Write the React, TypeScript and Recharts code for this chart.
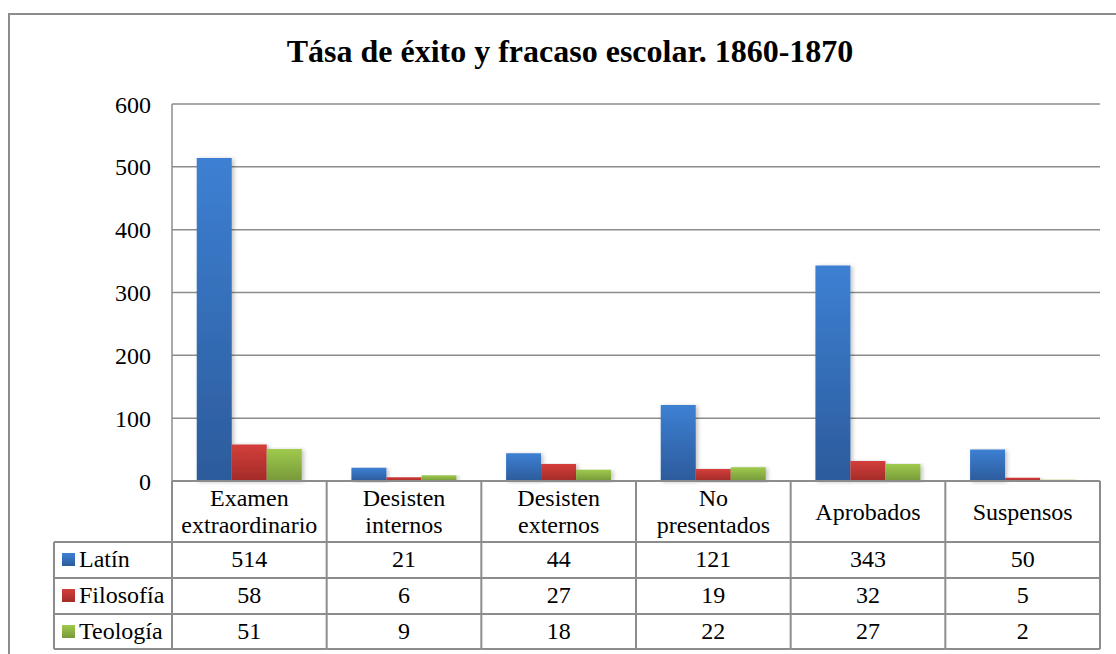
import { BarChart, Bar, XAxis, YAxis, CartesianGrid } from 'recharts';

const categories = [
  'Examen extraordinario',
  'Desisten internos',
  'Desisten externos',
  'No presentados',
  'Aprobados',
  'Suspensos',
];
const latin = [514, 21, 44, 121, 343, 50];
const filosofia = [58, 6, 27, 19, 32, 5];
const teologia = [51, 9, 18, 22, 27, 2];
const yTicks = [0, 100, 200, 300, 400, 500, 600];

const series = [
  { key: 'latin', name: 'Latín', values: latin, fill: 'url(#gBlue)' },
  { key: 'filosofia', name: 'Filosofía', values: filosofia, fill: 'url(#gRed)' },
  { key: 'teologia', name: 'Teología', values: teologia, fill: 'url(#gGreen)' },
];

const data = categories.map((name, i) => ({
  name,
  latin: latin[i],
  filosofia: filosofia[i],
  teologia: teologia[i],
}));

const W = 1116;
const H = 654;
const LEFT = 172;
const RIGHT_M = 16;
const BAND = (W - LEFT - RIGHT_M) / categories.length;
const LINE = '#8c8c8c';
const FONT = 24;
const FAMILY = "'Liberation Serif', 'Times New Roman', serif";

// the x axis is drawn as the data table: header cell + one cell per series
const TableTick = (props: any) => {
  const { x, y, payload, index } = props;
  const l = x - BAND / 2;
  const r = x + BAND / 2;
  const rows = [61, 97, 133, 168];
  const words: string[] = String(payload.value).split(' ');
  const legendLeft = 54;
  const txt = { fontSize: FONT, fill: '#000', style: { fontFamily: FAMILY } };
  return (
    <g>
      {rows.map((dy) => (
        <line key={dy} x1={l} x2={r} y1={y + dy} y2={y + dy} stroke={LINE} strokeWidth={2} />
      ))}
      <line x1={r} x2={r} y1={y} y2={y + 168} stroke={LINE} strokeWidth={2} />
      {index === 0 && (
        <g>
          <line x1={l} x2={l} y1={y} y2={y + 168} stroke={LINE} strokeWidth={2} />
          <line x1={legendLeft} x2={legendLeft} y1={y + 61} y2={y + 168} stroke={LINE} strokeWidth={2} />
          {rows.map((dy) => (
            <line key={'l' + dy} x1={legendLeft} x2={l} y1={y + dy} y2={y + dy} stroke={LINE} strokeWidth={2} />
          ))}
          {series.map((s, k) => (
            <g key={s.key}>
              <rect x={62} y={y + 72 + k * 36} width={13} height={13} fill={s.fill} />
              <text x={79} y={y + 86 + k * 36} {...txt}>
                {s.name}
              </text>
            </g>
          ))}
        </g>
      )}
      {words.length > 1 ? (
        words.map((w, k) => (
          <text key={k} x={x} y={y + 25 + k * 27} textAnchor="middle" {...txt}>
            {w}
          </text>
        ))
      ) : (
        <text x={x} y={y + 39} textAnchor="middle" {...txt}>
          {words[0]}
        </text>
      )}
      {series.map((s, k) => (
        <text key={s.key} x={x} y={y + 86 + k * 36} textAnchor="middle" {...txt}>
          {s.values[index]}
        </text>
      ))}
    </g>
  );
};

export default function App() {
  return (
    <div style={{ position: 'relative', width: W, height: H, fontFamily: FAMILY }}>
      <style>{`html,body{margin:0;padding:0;overflow:hidden;background:#fff} svg text{font-family:${FAMILY}}`}</style>
      <svg width={W} height={H} style={{ position: 'absolute', left: 0, top: 0 }}>
        <defs>
          <linearGradient id="gBlue" x1="0" y1="0" x2="0" y2="1">
            <stop offset="0%" stopColor="#3d80d3" />
            <stop offset="100%" stopColor="#2c5b9b" />
          </linearGradient>
          <linearGradient id="gRed" x1="0" y1="0" x2="0" y2="1">
            <stop offset="0%" stopColor="#d43f3b" />
            <stop offset="100%" stopColor="#a22b28" />
          </linearGradient>
          <linearGradient id="gGreen" x1="0" y1="0" x2="0" y2="1">
            <stop offset="0%" stopColor="#9fca4c" />
            <stop offset="100%" stopColor="#77993a" />
          </linearGradient>
          <filter id="barShadow" x="-20%" y="-5%" width="150%" height="115%">
            <feDropShadow dx="2" dy="1" stdDeviation="2" floodColor="#000" floodOpacity="0.25" />
          </filter>
        </defs>
        <path d={`M9 ${H} V14 H${W}`} fill="none" stroke={LINE} strokeWidth={2} />
        <text x={570} y={62} textAnchor="middle" fontSize={32} fontWeight="bold" fill="#000">
          Tása de éxito y fracaso escolar. 1860-1870
        </text>
      </svg>
      <div style={{ position: 'absolute', left: 0, top: 0 }}>
        <BarChart
          width={W}
          height={H}
          data={data}
          margin={{ top: 104, right: RIGHT_M, left: 0, bottom: 5 }}
          barCategoryGap="16%"
          barGap={0}
        >
          <CartesianGrid vertical={false} stroke={LINE} strokeWidth={1.5} />
          <XAxis
            dataKey="name"
            height={168}
            tickSize={0}
            tickMargin={0}
            interval={0}
            axisLine={{ stroke: LINE, strokeWidth: 2 }}
            tick={<TableTick />}
          />
          <YAxis
            width={LEFT}
            domain={[0, 600]}
            ticks={yTicks}
            interval={0}
            tickLine={false}
            tickSize={0}
            tickMargin={21}
            axisLine={{ stroke: LINE, strokeWidth: 1.5 }}
            tick={{ fontSize: FONT, fill: '#000' }}
          />
          {series.map((s) => (
            <Bar
              key={s.key}
              dataKey={s.key}
              name={s.name}
              fill={s.fill}
              filter="url(#barShadow)"
              isAnimationActive={false}
            />
          ))}
        </BarChart>
      </div>
    </div>
  );
}
